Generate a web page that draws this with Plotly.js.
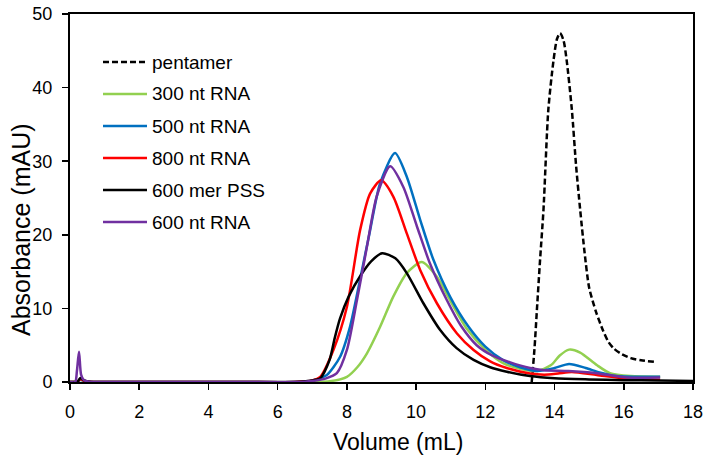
<!DOCTYPE html>
<html>
<head>
<meta charset="utf-8">
<script src="https://cdn.plot.ly/plotly-3.0.1.min.js"></script>
<style>html,body{margin:0;padding:0;background:#fff;}#chart{width:711px;height:465px;}</style>
</head>
<body>
<div id="chart"></div>
<script>
// ---- data ----
const seriesNames = ["pentamer", "300 nt RNA", "500 nt RNA", "800 nt RNA", "600 mer PSS", "600 nt RNA"];
const xTitle = "Volume (mL)";
const yTitle = "Absorbance (mAU)";

const pentamerX = [13.34, 13.42, 13.49, 13.58, 13.68, 13.82, 13.97, 14.07, 14.16, 14.26, 14.35, 14.5, 14.62, 14.74, 14.87, 15.0, 15.2, 15.4, 15.55, 15.7, 15.9, 16.2, 16.5, 16.95];
const pentamerY = [0, 4.5, 9.8, 16.5, 23.4, 37.0, 43.7, 46.6, 47.4, 46.4, 43.7, 37.0, 29.5, 23.4, 17.5, 12.8, 9.5, 7.0, 5.5, 4.6, 3.9, 3.25, 2.95, 2.7];

const rna300X = [0, 0.15, 0.22, 0.3, 0.4, 0.55, 0.8, 1.5, 3, 5, 6.5, 7.5, 8.0, 8.3, 8.58, 8.96, 9.34, 9.73, 10.16, 10.6, 10.98, 11.47, 12.0, 12.5, 13.0, 13.5, 13.9, 14.15, 14.42, 14.74, 15.22, 15.6, 16.2, 17.05];
const rna300Y = [0, 0, 0.05, 0.3, 0.15, 0.03, 0, 0, 0, 0, 0, 0.1, 0.7, 2.0, 3.9, 7.5, 11.6, 14.8, 16.3, 14.3, 11.1, 7.2, 4.4, 2.6, 1.8, 1.5, 2.3, 3.6, 4.4, 4.0, 2.3, 1.2, 0.8, 0.7];

const rna500X = [0, 0.15, 0.22, 0.3, 0.4, 0.55, 0.8, 1.5, 3, 5, 6.5, 7.0, 7.42, 7.8, 8.09, 8.38, 8.67, 8.96, 9.39, 9.73, 10.12, 10.5, 10.98, 11.5, 12.0, 12.5, 13.0, 13.5, 14.0, 14.42, 14.9, 15.3, 15.8, 17.05];
const rna500Y = [0, 0, 0.05, 0.3, 0.15, 0.03, 0, 0, 0, 0, 0, 0.2, 0.95, 3.4, 7.5, 13.9, 20.6, 27.0, 31.1, 27.9, 22.0, 16.6, 11.6, 7.6, 4.8, 3.0, 2.0, 1.5, 1.9, 2.45, 1.9, 1.3, 0.8, 0.7];

const rna800X = [0, 0.15, 0.22, 0.3, 0.4, 0.55, 0.8, 1.5, 3, 5, 6.5, 7.0, 7.23, 7.61, 8.0, 8.38, 8.67, 8.99, 9.34, 9.73, 10.12, 10.6, 11.18, 11.66, 12.14, 12.62, 13.29, 13.7, 14.1, 14.5, 15.22, 16.0, 17.05];
const rna800Y = [0, 0, 0.05, 0.4, 0.15, 0.03, 0, 0, 0, 0, 0, 0.2, 0.7, 4.35, 10.2, 20.6, 25.6, 27.4, 25.2, 20.2, 15.2, 10.7, 6.6, 4.35, 2.8, 1.9, 1.15, 1.0, 1.15, 1.35, 0.95, 0.5, 0.3];

const pssX = [0, 0.15, 0.22, 0.3, 0.4, 0.55, 0.8, 1.5, 3, 5, 6.5, 7.0, 7.23, 7.5, 7.65, 7.8, 8.05, 8.4, 8.7, 9.02, 9.4, 9.73, 10.21, 10.69, 11.17, 11.66, 12.14, 12.62, 13.29, 14.0, 15.0, 16.0, 17.0, 18.0];
const pssY = [0, 0, 0.05, 0.55, 0.25, 0.03, 0, 0, 0, 0, 0, 0.2, 0.5, 3.0, 6.0, 8.6, 11.6, 14.5, 16.4, 17.5, 16.8, 14.8, 10.7, 7.1, 4.6, 3.0, 2.0, 1.4, 0.8, 0.5, 0.35, 0.25, 0.2, 0.15];

const rna600X = [0, 0.15, 0.2, 0.26, 0.32, 0.4, 0.55, 0.8, 1.5, 3, 5, 6.5, 7.0, 7.4, 7.71, 8.0, 8.29, 8.58, 8.86, 9.25, 9.63, 10.02, 10.4, 10.89, 11.3, 11.75, 12.2, 12.7, 13.29, 13.7, 14.4, 15.22, 16.09, 17.05];
const rna600Y = [0, 0, 1.5, 4.1, 1.0, 0.25, 0.05, 0, 0, 0, 0, 0, 0.15, 0.5, 1.2, 4.35, 11.1, 18.4, 25.2, 29.3, 26.5, 21.2, 16.1, 11.1, 7.6, 5.0, 3.6, 2.7, 1.9, 1.6, 1.5, 1.2, 0.6, 0.6];

const xTicks = [0, 2, 4, 6, 8, 10, 12, 14, 16, 18];
const yTicks = [0, 10, 20, 30, 40, 50];

// ---- styling ----
const colors = ["#000000", "#92D050", "#0070C0", "#FF0000", "#000000", "#7030A0"];
const dashes = ["6px,3px", "solid", "solid", "solid", "solid", "solid"];
const xs = [pentamerX, rna300X, rna500X, rna800X, pssX, rna600X];
const ys = [pentamerY, rna300Y, rna500Y, rna800Y, pssY, rna600Y];

const traces = seriesNames.map((name, i) => ({
  type: "scatter", mode: "lines", name: name,
  x: xs[i], y: ys[i],
  line: {color: colors[i], width: 2.5, dash: dashes[i], shape: "spline", smoothing: 0.7},
  showlegend: false
}));

const FONT = "Arial, 'Liberation Sans', sans-serif";
const plotTop = 14, plotBottom = 382, plotLeft = 70, plotRight = 693;
const pw = plotRight - plotLeft, ph = plotBottom - plotTop;
const px2x = p => (p - plotLeft) / pw;
const px2y = p => (plotBottom - p) / ph;

// manual legend (line samples + labels)
const shapes = [], annotations = [];
seriesNames.forEach((name, i) => {
  const yp = px2y(62 + i * 32);
  shapes.push({type: "line", xref: "paper", yref: "paper",
    x0: px2x(103), x1: px2x(147), y0: yp, y1: yp,
    line: {color: colors[i], width: 2.5, dash: i === 0 ? "6px,3px" : "solid"}});
  annotations.push({xref: "paper", yref: "paper", x: px2x(150), y: yp,
    xanchor: "left", yanchor: "middle", text: name, showarrow: false,
    font: {family: FONT, size: 19, color: "#000"}});
});
// axis titles placed as in the reference
annotations.push({xref: "paper", yref: "paper", x: px2x(398), y: px2y(442),
  xanchor: "center", yanchor: "middle", text: xTitle, showarrow: false,
  font: {family: FONT, size: 23, color: "#000"}});
annotations.push({xref: "paper", yref: "paper", x: px2x(21), y: px2y(230),
  xanchor: "center", yanchor: "middle", text: yTitle, textangle: -90, showarrow: false,
  font: {family: FONT, size: 25, color: "#000"}});

const axisCommon = {
  showgrid: false, zeroline: false, showline: true, linecolor: "#000", linewidth: 2, mirror: true,
  ticks: "outside", ticklen: 6, tickwidth: 1.5, tickcolor: "#000", ticklabelstandoff: 6,
  tickfont: {family: FONT, size: 18, color: "#000"}, automargin: false
};

const layout = {
  width: 711, height: 465,
  margin: {l: plotLeft, r: 711 - plotRight, t: plotTop, b: 465 - plotBottom},
  paper_bgcolor: "#fff", plot_bgcolor: "#fff",
  font: {family: FONT, size: 18, color: "#000"},
  showlegend: false,
  xaxis: Object.assign({range: [0, 18], tickvals: xTicks, ticktext: xTicks.map(String)}, axisCommon),
  yaxis: Object.assign({range: [0, 50], tickvals: yTicks, ticktext: yTicks.map(String)}, axisCommon),
  shapes: shapes,
  annotations: annotations
};

Plotly.newPlot("chart", traces, layout, {staticPlot: true, displayModeBar: false});
</script>
</body>
</html>
